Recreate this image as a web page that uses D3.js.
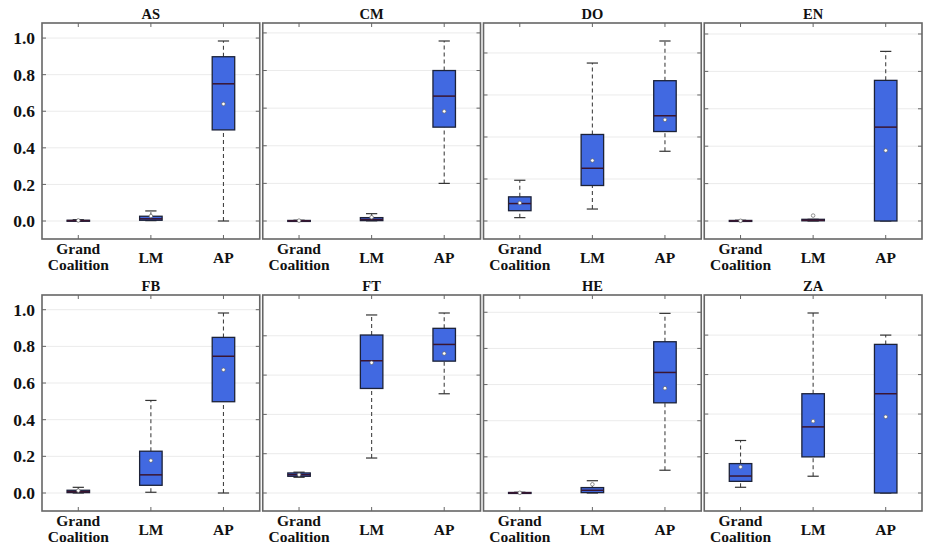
<!DOCTYPE html>
<html>
<head>
<meta charset="utf-8">
<script src="https://cdn.jsdelivr.net/npm/d3@7"></script>
<style>
  html, body { margin: 0; padding: 0; background: #fff; }
</style>
</head>
<body>
<svg id="chart" width="931" height="555"></svg>
<script>
// ---- data ----
const panels = ["AS", "CM", "DO", "EN", "FB", "FT", "HE", "ZA"];
const categories = ["Grand Coalition", "LM", "AP"];
const yTickValues = [0.0, 0.2, 0.4, 0.6, 0.8, 1.0];
// panel maximum (sets each panel's y range)
const panelMax = [0.984, 0.957, 0.857, 0.9625, 0.982, 0.916, 0.996, 0.912];
// per panel, per category [GC, LM, AP]
const whiskerLow = [
  [0.000, 0.002, 0.000], [0.000, 0.001, 0.200], [0.016, 0.057, 0.332], [0.000, 0.000, 0.000],
  [0.000, 0.004, 0.000], [0.080, 0.178, 0.505], [0.000, 0.000, 0.126], [0.029, 0.085, 0.000]
];
const q1 = [
  [0.000, 0.004, 0.498], [0.000, 0.002, 0.499], [0.049, 0.169, 0.426], [0.000, 0.001, 0.000],
  [0.002, 0.042, 0.498], [0.085, 0.532, 0.671], [0.000, 0.002, 0.499], [0.059, 0.183, 0.000]
];
const median = [
  [0.002, 0.012, 0.750], [0.001, 0.008, 0.664], [0.083, 0.251, 0.501], [0.001, 0.004, 0.502],
  [0.007, 0.099, 0.746], [0.093, 0.673, 0.756], [0.001, 0.015, 0.667], [0.086, 0.335, 0.503]
];
const q3 = [
  [0.004, 0.026, 0.898], [0.003, 0.018, 0.800], [0.115, 0.412, 0.668], [0.003, 0.009, 0.752],
  [0.015, 0.228, 0.849], [0.102, 0.804, 0.838], [0.003, 0.030, 0.837], [0.149, 0.503, 0.753]
];
const whiskerHigh = [
  [0.007, 0.055, 0.984], [0.004, 0.039, 0.957], [0.194, 0.752, 0.857], [0.004, 0.009, 0.907],
  [0.031, 0.505, 0.982], [0.106, 0.906, 0.916], [0.004, 0.068, 0.994], [0.266, 0.912, 0.800]
];
const means = [
  [0.003, 0.027, 0.640], [0.002, 0.020, 0.583], [0.086, 0.288, 0.482], [0.001, 0.029, 0.377],
  [0.013, 0.177, 0.672], [0.093, 0.663, 0.710], [0.001, 0.048, 0.580], [0.132, 0.364, 0.386]
];

// ---- layout ----
const FONT = "'Liberation Serif', 'Times New Roman', Times, serif";
const svg = d3.select("#chart");
const leftEdge = 42, rightEdge = 922, gap = 3;
const pw = (rightEdge - leftEdge - 3 * gap) / 4;
const rowTop = [23, 295], ph = 216;

function label(g) {
  return g.append("text").attr("font-family", FONT).attr("font-weight", "bold").attr("fill", "#111");
}

panels.forEach((name, i) => {
  const col = i % 4, row = Math.floor(i / 4);
  const x0 = leftEdge + col * (pw + gap), y0 = rowTop[row];
  const g = svg.append("g").attr("transform", `translate(${x0},${y0})`);
  const M = panelMax[i];
  const y = d3.scaleLinear().domain([-0.1 * M, 1.1 * M]).range([ph, 0]);
  const x = d3.scalePoint().domain(categories).range([0, pw]).padding(0.5);
  const step = x.step();
  const bw = step * 0.31, cw = bw / 2;
  const top = y.domain()[1];
  const ticks = yTickValues.filter(v => v <= top - 0.02 * (top - y.domain()[0]));

  // grid
  g.selectAll("line.grid").data(ticks).enter().append("line")
    .attr("x1", 0).attr("x2", pw)
    .attr("y1", d => y(d)).attr("y2", d => y(d))
    .attr("stroke", "#ebebeb").attr("stroke-width", 1);

  // inward ticks: left/right
  [0, pw].forEach(xx => {
    const dir = xx === 0 ? 1 : -1;
    g.selectAll(null).data(ticks).enter().append("line")
      .attr("x1", xx).attr("x2", xx + dir * 4)
      .attr("y1", d => y(d)).attr("y2", d => y(d))
      .attr("stroke", "#666").attr("stroke-width", 1);
  });
  // inward ticks: top/bottom
  [0, ph].forEach(yy => {
    const dir = yy === 0 ? 1 : -1;
    g.selectAll(null).data(categories).enter().append("line")
      .attr("x1", d => x(d)).attr("x2", d => x(d))
      .attr("y1", yy).attr("y2", yy + dir * 4)
      .attr("stroke", "#666").attr("stroke-width", 1);
  });

  // boxes
  categories.forEach((c, k) => {
    const cx = x(c);
    const lo = whiskerLow[i][k], a = q1[i][k], m = median[i][k], b = q3[i][k], hi = whiskerHigh[i][k];
    // whiskers
    [[lo, a], [b, hi]].forEach(([s, e]) => {
      if (Math.abs(y(s) - y(e)) > 0.5) {
        g.append("line").attr("x1", cx).attr("x2", cx)
          .attr("y1", y(s)).attr("y2", y(e))
          .attr("stroke", "#444").attr("stroke-width", 1.1)
          .attr("stroke-dasharray", "4,3");
      }
    });
    // caps
    [lo, hi].forEach(v => {
      g.append("line").attr("x1", cx - cw / 2).attr("x2", cx + cw / 2)
        .attr("y1", y(v)).attr("y2", y(v))
        .attr("stroke", "#333").attr("stroke-width", 1.2);
    });
    // box
    g.append("rect").attr("x", cx - bw / 2).attr("width", bw)
      .attr("y", y(b)).attr("height", Math.max(1, y(a) - y(b)))
      .attr("fill", "#4169e1").attr("stroke", "#1c2238").attr("stroke-width", 1.3);
    // median
    g.append("line").attr("x1", cx - bw / 2).attr("x2", cx + bw / 2)
      .attr("y1", y(m)).attr("y2", y(m))
      .attr("stroke", "#3a1530").attr("stroke-width", 1.5);
    // mean
    g.append("circle").attr("cx", cx).attr("cy", y(means[i][k])).attr("r", 1.8)
      .attr("fill", "#fff").attr("stroke", "#666").attr("stroke-width", 0.7);
  });

  // frame
  g.append("rect").attr("x", 0).attr("y", 0).attr("width", pw).attr("height", ph)
    .attr("fill", "none").attr("stroke", "#666").attr("stroke-width", 1.6);

  // title
  label(g).attr("x", pw / 2).attr("y", -4).attr("text-anchor", "middle")
    .attr("font-size", 14.5).text(name);

  // x labels
  categories.forEach(c => {
    const words = c.split(" ");
    if (words.length === 2) {
      label(g).attr("x", x(c)).attr("y", ph + 15).attr("text-anchor", "middle")
        .attr("font-size", 15.5).text(words[0]);
      label(g).attr("x", x(c)).attr("y", ph + 31).attr("text-anchor", "middle")
        .attr("font-size", 15.5).text(words[1]);
    } else {
      label(g).attr("x", x(c)).attr("y", ph + 23.5).attr("text-anchor", "middle")
        .attr("font-size", 15.5).text(c);
    }
  });

  // y labels only on first column
  if (col === 0) {
    ticks.forEach(d => {
      label(g).attr("x", -7).attr("y", y(d)).attr("dy", "0.35em")
        .attr("text-anchor", "end").attr("font-size", 17.5)
        .text(d3.format(".1f")(d));
    });
  }
});
</script>
</body>
</html>
